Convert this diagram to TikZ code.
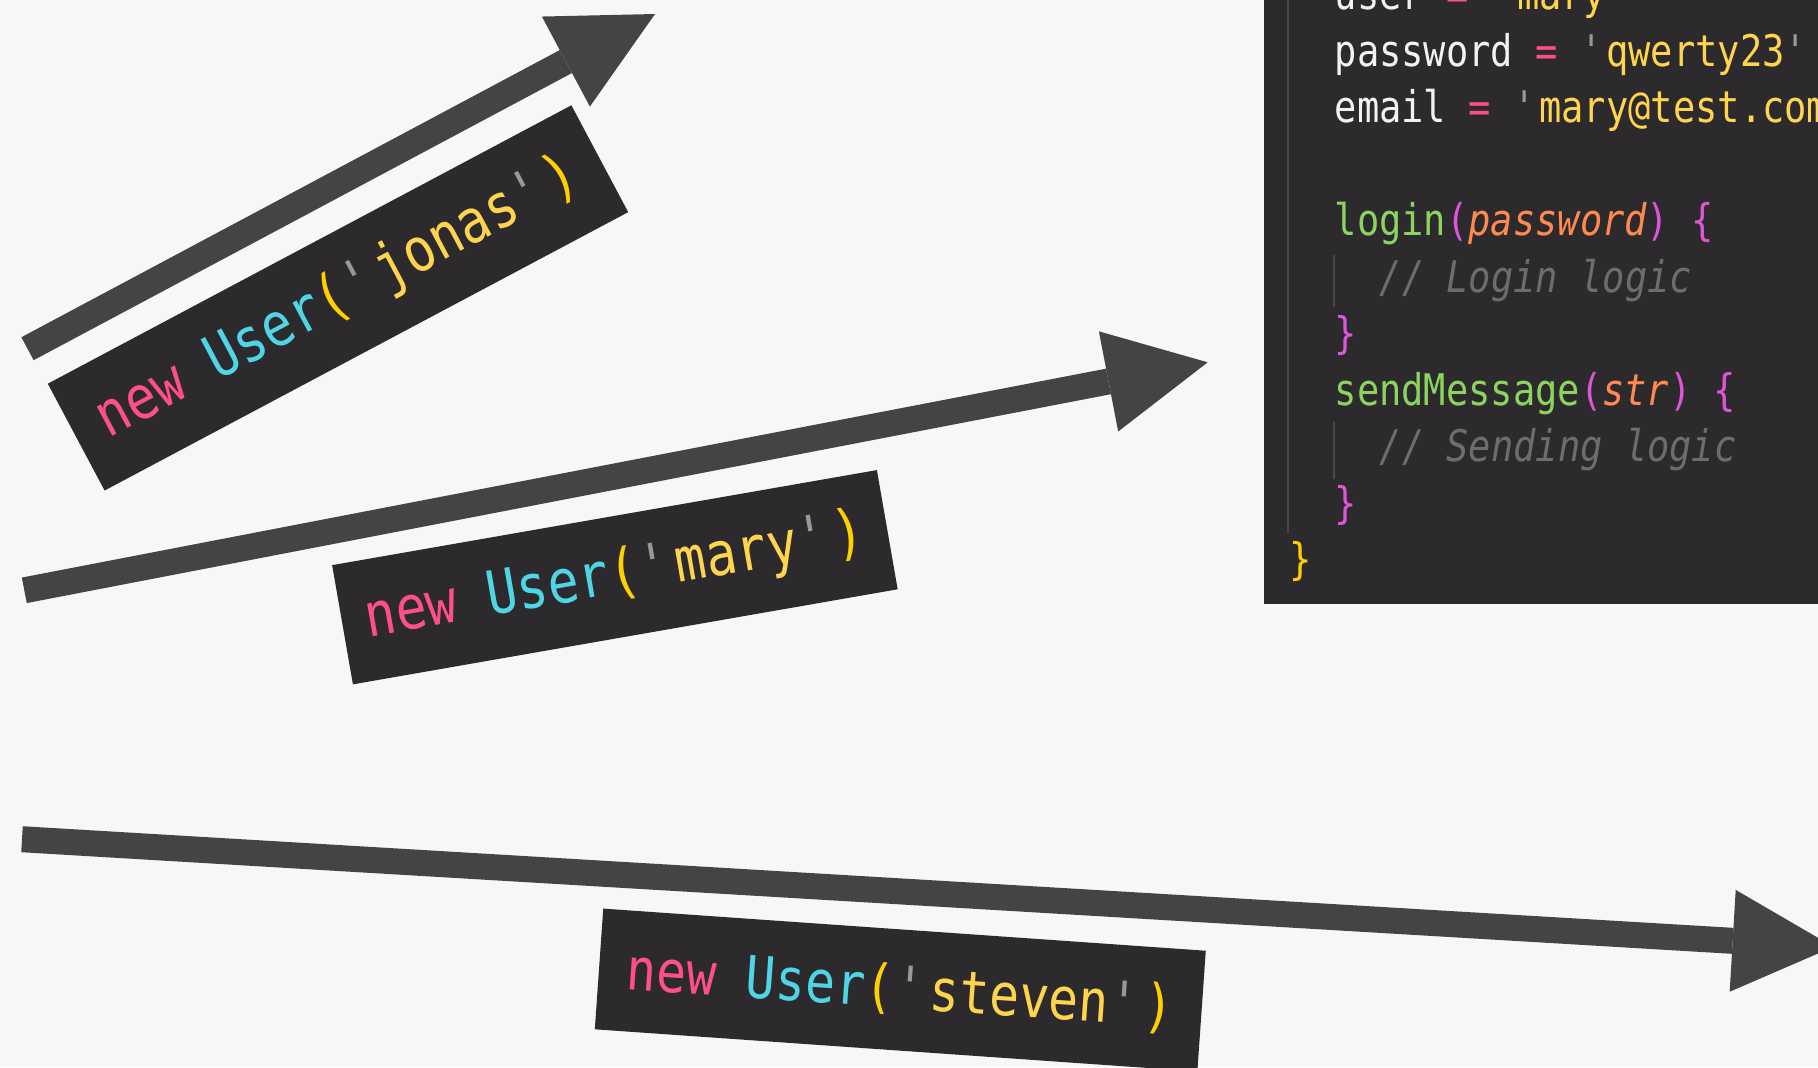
\documentclass[tikz,border=0pt]{standalone}
\usepackage{fontspec}
\usepackage{xcolor}
\usetikzlibrary{arrows.meta}
\setmonofont[FakeStretch=0.85]{DejaVu Sans Mono}

\definecolor{pagebg}{HTML}{F7F7F7}
\definecolor{arrowgray}{HTML}{444444}
\definecolor{panelbg}{HTML}{2D2A2E}
\definecolor{guidegray}{HTML}{4A474B}
\definecolor{codewhite}{HTML}{F2F2F0}
\definecolor{kwpink}{HTML}{FF4F88}
\definecolor{clscyan}{HTML}{4FD6E6}
\definecolor{paryellow}{HTML}{FFD000}
\definecolor{stryellow}{HTML}{FFD54D}
\definecolor{quogray}{HTML}{9A989A}
\definecolor{fngreen}{HTML}{8BD45E}
\definecolor{argorange}{HTML}{FF8A4F}
\definecolor{brmagenta}{HTML}{DD55D8}
\definecolor{comgray}{HTML}{6E6C6E}

\newcommand{\tkw}[1]{\textcolor{kwpink}{#1}}
\newcommand{\tcls}[1]{\textcolor{clscyan}{#1}}
\newcommand{\tpar}[1]{\textcolor{paryellow}{#1}}
\newcommand{\tstr}[1]{\textcolor{stryellow}{#1}}
\newcommand{\tquo}{\textcolor{quogray}{\textquotesingle}}
\newcommand{\tfn}[1]{\textcolor{fngreen}{#1}}
\newcommand{\targ}[1]{\textcolor{argorange}{\itshape #1}}
\newcommand{\tbr}[1]{\textcolor{brmagenta}{#1}}
\newcommand{\tcom}[1]{\textcolor{comgray}{\itshape #1}}

\begin{document}
\begin{tikzpicture}[
    userbox/.style={fill=panelbg, minimum height=1.21cm, inner sep=0pt, font=\ttfamily\fontsize{17.2}{20}\selectfont},
    codeline/.style={anchor=base west, inner sep=0pt, text=codewhite, font=\ttfamily\fontsize{12.4}{15}\selectfont},
    bigarrow/.style={draw=arrowgray, line width=0.26cm, -{Triangle[length=1.01cm, width=1.02cm, line width=0pt]}},
    guide/.style={draw=guidegray, line width=0.6pt}]
\useasboundingbox (0,0) rectangle (18.18,-10.67);
\fill[pagebg] (0,0) rectangle (18.18,-10.67);
\clip (0,0) rectangle (18.18,-10.67);

\fill[panelbg] (12.64,0.1) rectangle (18.3,-6.04);
\draw[guide] (12.88,0.1) -- (12.88,-5.33);
\draw[guide] (13.34,-2.55) -- (13.34,-3.07);
\draw[guide] (13.34,-4.22) -- (13.34,-4.79);

\node[codeline] (userline) at (13.34,-0.095) {user \tkw{=} \tquo\tstr{mary}\tquo};
\node[codeline] (pwline) at (13.34,-0.66) {password \tkw{=} \tquo\tstr{qwerty23}\tquo};
\node[codeline] (emailline) at (13.34,-1.225) {email \tkw{=} \tquo\tstr{mary@test.com}\tquo};
\node[codeline] (loginline) at (13.34,-2.355) {\tfn{login}\tbr{(}\targ{password}\tbr{)} \tbr{\{}};
\node[codeline] (logincom) at (13.79,-2.92) {\tcom{// Login logic}};
\node[codeline] (loginend) at (13.34,-3.485) {\tbr{\}}};
\node[codeline] (sendline) at (13.34,-4.05) {\tfn{sendMessage}\tbr{(}\targ{str}\tbr{)} \tbr{\{}};
\node[codeline] (sendcom) at (13.79,-4.615) {\tcom{// Sending logic}};
\node[codeline] (sendend) at (13.34,-5.18) {\tbr{\}}};
\node[codeline] (classend) at (12.89,-5.745) {\tpar{\}}};

\coordinate (jonastail) at (0.275,-3.487);
\coordinate (jonastip) at (6.55,-0.14);
\coordinate (marytail) at (0.243,-5.903);
\coordinate (marytip) at (12.077,-3.623);
\coordinate (steventail) at (0.22,-8.392);
\coordinate (steventip) at (18.335,-9.468);
\draw[bigarrow] (jonastail) -- (jonastip);
\draw[bigarrow] (marytail) -- (marytip);
\draw[bigarrow] (steventail) -- (steventip);

\node[userbox, minimum width=5.93cm, rotate=28] (jonas) at (3.38,-2.979) {\tkw{new} \tcls{User}\tpar{(}\tquo\tstr{jonas}\tquo\tpar{)}};
\node[userbox, minimum width=5.53cm, rotate=9.9] (mary) at (6.149,-5.772) {\tkw{new} \tcls{User}\tpar{(}\tquo\tstr{mary}\tquo\tpar{)}};
\node[userbox, minimum width=6.04cm, rotate=-4, font=\ttfamily\fontsize{16.6}{20}\selectfont] (steven) at (9.003,-9.9) {\tkw{new} \tcls{User}\tpar{(}\tquo\tstr{steven}\tquo\tpar{)}};
\end{tikzpicture}
\end{document}
